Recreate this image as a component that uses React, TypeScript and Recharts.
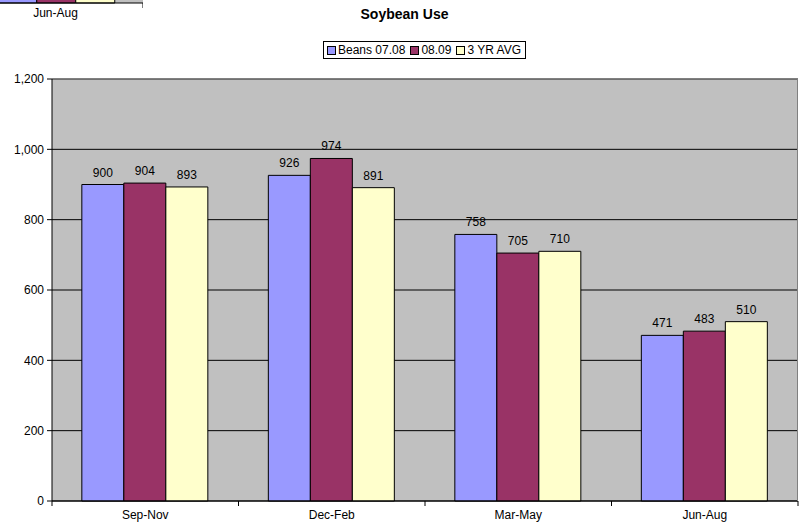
import { Bar, BarChart, CartesianGrid, LabelList, ReferenceLine, XAxis, YAxis } from "recharts";

const categories = ["Sep-Nov", "Dec-Feb", "Mar-May", "Jun-Aug"];
const beans0708 = [900, 926, 758, 471];
const beans0809 = [904, 974, 705, 483];
const avg3yr = [893, 891, 710, 510];
const yTicks = [0, 200, 400, 600, 800, 1000, 1200];

const series = [
  { key: "b0708", name: "Beans 07.08", color: "#9999FF" },
  { key: "b0809", name: "08.09", color: "#993366" },
  { key: "avg", name: "3 YR AVG", color: "#FFFFCC" },
];

const data = categories.map((c, i) => ({
  category: c,
  b0708: beans0708[i],
  b0809: beans0809[i],
  avg: avg3yr[i],
}));

// the cut-off strip of a neighbouring chart at the top-left corner
const prevData = data.slice(3);

const font = "Arial, 'Liberation Sans', sans-serif";

function CategoryTick(props: any) {
  const { x, y, payload, index, visibleTicksCount, half, labelDy = 18 } = props;
  const h = payload?.offset || half;
  const last = index === visibleTicksCount - 1;
  return (
    <g>
      <line x1={x - h} x2={x - h} y1={y} y2={y + 5} stroke="#000" />
      {last && <line x1={x + h} x2={x + h} y1={y} y2={y + 5} stroke="#000" />}
      <text x={x} y={y + labelDy} textAnchor="middle" fontSize={12} fontFamily={font} fill="#000">
        {payload.value}
      </text>
    </g>
  );
}

function LegendBox() {
  return (
    <div
      style={{
        position: "absolute",
        left: 323,
        top: 41,
        display: "flex",
        alignItems: "center",
        border: "1px solid #000",
        padding: "1px 4px 1px 3px",
        fontFamily: font,
        fontSize: 12,
        background: "#fff",
        gap: 5,
      }}
    >
      {series.map((s) => (
        <span key={s.key} style={{ display: "flex", alignItems: "center", gap: 2 }}>
          <span style={{ width: 7, height: 7, background: s.color, border: "1px solid #000" }} />
          {s.name}
        </span>
      ))}
    </div>
  );
}

export default function App() {
  return (
    <div style={{ position: "absolute", left: 0, top: 0, width: 799, height: 523, background: "#fff", overflow: "hidden" }}>
      <div style={{ position: "absolute", left: -32, top: 0, width: 175, height: 24, overflow: "hidden" }}>
        <div style={{ position: "absolute", left: 0, top: -198 }}>
          <BarChart width={175} height={222} data={prevData} margin={{ top: 0, right: 0, bottom: 0, left: 0 }} barCategoryGap="17%" barGap={0}>
            <CartesianGrid horizontal={false} vertical={false} fill="#C0C0C0" />
            <XAxis dataKey="category" height={21} tickLine={false} tickSize={0} tickMargin={0} stroke="#000" tick={<CategoryTick half={87.5} labelDy={14} />} interval={0} />
            <YAxis hide domain={[0, 600]} />
            {series.map((s) => (
              <Bar key={s.key} dataKey={s.key} fill={s.color} stroke="#000" strokeWidth={1} isAnimationActive={false} />
            ))}
          </BarChart>
        </div>
      </div>

      <div style={{ position: "absolute", left: 0, width: 809, top: 6, textAlign: "center", fontFamily: font, fontSize: 14, fontWeight: "bold" }}>
        Soybean Use
      </div>
      <LegendBox />

      <BarChart width={799} height={523} data={data} margin={{ top: 79, right: 1, bottom: 0, left: 0 }} barCategoryGap="16%" barGap={0}>
        <CartesianGrid vertical={false} stroke="#000" fill="#C0C0C0" />
        <XAxis dataKey="category" height={22} tickLine={false} tickSize={0} tickMargin={0} stroke="#000" interval={0} tick={<CategoryTick half={93.1} />} />
        <YAxis
          width={52}
          domain={[0, 1200]}
          ticks={yTicks}
          interval={0}
          stroke="#000"
          tickSize={5}
          tickMargin={3}
          tick={{ fill: "#000", fontSize: 12, fontFamily: font }}
          tickFormatter={(v: number) => v.toLocaleString("en-US")}
        />
        <ReferenceLine y={1200} stroke="#808080" />
        {series.map((s) => (
          <Bar key={s.key} dataKey={s.key} name={s.name} fill={s.color} stroke="#000" strokeWidth={1} isAnimationActive={false}>
            <LabelList dataKey={s.key} position="top" offset={8} fill="#000" fontSize={12} fontFamily={font} />
          </Bar>
        ))}
      </BarChart>
      <div style={{ position: "absolute", left: 797, top: 79, width: 1, height: 422, background: "#808080" }} />
    </div>
  );
}
